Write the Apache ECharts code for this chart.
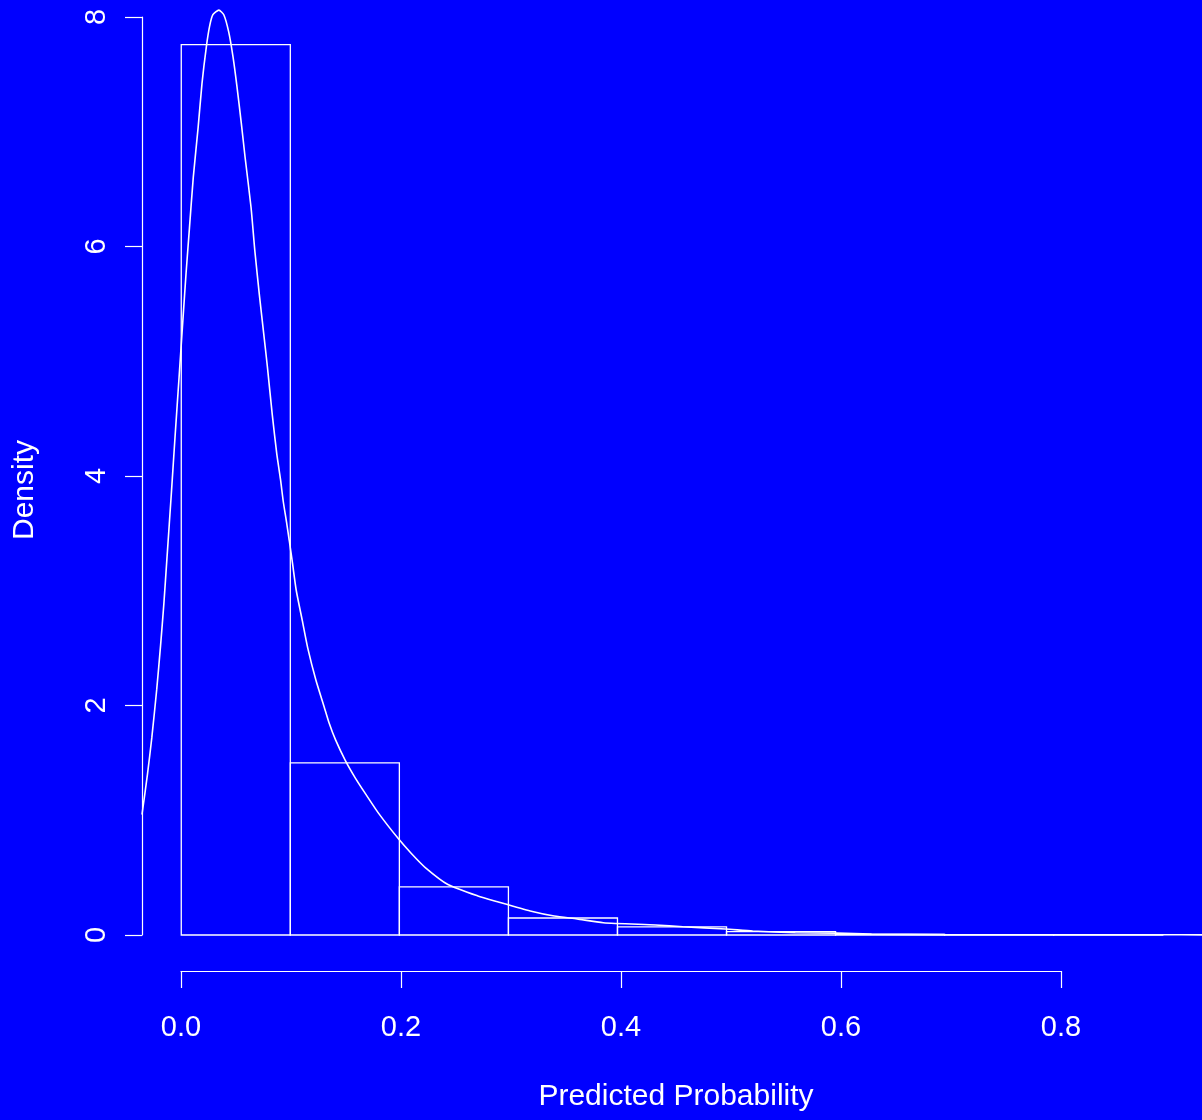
<!DOCTYPE html>
<html>
<head>
<meta charset="utf-8">
<script src="https://cdn.jsdelivr.net/npm/echarts@6/dist/echarts.min.js"></script>
<style>
html,body{margin:0;padding:0;background:#0000ff;}
#chart{width:1202px;height:1120px;}
</style>
</head>
<body>
<div id="chart"></div>
<script>
// Histogram bins (density scale)
const binStart = [0.0, 0.1, 0.2, 0.3, 0.4, 0.5, 0.6, 0.7, 0.8];
const binEnd   = [0.1, 0.2, 0.3, 0.4, 0.5, 0.6, 0.7, 0.8, 0.9];
const binDensity = [7.76, 1.50, 0.42, 0.148, 0.07, 0.029, 0.006, 0.002, 0.001];

// Kernel density curve
const densX = [-0.036,-0.031,-0.027,-0.0225,-0.019,-0.016,-0.013,-0.009,-0.0055,-0.002,0.0015,0.0045,0.0075,0.011,0.0155,0.019,0.023,0.026,0.029,0.0345,0.039,0.0435,0.0475,0.051,0.055,0.0585,0.064,0.0675,0.0715,0.0755,0.079,0.0835,0.0875,0.091,0.0935,0.0965,0.099,0.102,0.1055,0.111,0.116,0.1235,0.131,0.1355,0.1415,0.1505,0.1595,0.169,0.181,0.199,0.211,0.2235,0.2445,0.272,0.290,0.320,0.342,0.363,0.387,0.435,0.460,0.499,0.524,0.563,0.601,0.633,0.70,0.80,0.90,0.936];
const densY = [1.05,1.40,1.72,2.14,2.52,2.88,3.30,3.86,4.37,4.86,5.36,5.78,6.16,6.60,7.04,7.42,7.74,7.92,8.02,8.06,8.02,7.87,7.65,7.40,7.08,6.78,6.34,5.96,5.59,5.25,4.95,4.53,4.20,3.97,3.78,3.60,3.44,3.24,3.00,2.74,2.50,2.22,1.99,1.85,1.70,1.52,1.37,1.23,1.06,0.84,0.71,0.59,0.44,0.34,0.29,0.21,0.166,0.14,0.107,0.087,0.072,0.052,0.035,0.020,0.016,0.008,0.003,0.002,0.002,0.001];

// Axis ticks
const xTicks = [0.0, 0.2, 0.4, 0.6, 0.8];
const yTicks = [0, 2, 4, 6, 8];

const FONT = "'Liberation Sans', Arial, Helvetica, sans-serif";
const WHITE = '#ffffff';

const chart = echarts.init(document.getElementById('chart'), null, {renderer: 'canvas'});

const barData = binStart.map((s, i) => [s, binEnd[i], binDensity[i]]);
const lineData = densX.map((x, i) => [x, densY[i]]);

const option = {
  backgroundColor: '#0000ff',
  animation: false,
  grid: [
    {left: 142, width: 1069, top: 17, height: 918, containLabel: false},
    {left: 181, width: 880, top: 17, height: 918, containLabel: false}
  ],
  xAxis: [
    {gridIndex: 0, type: 'value', min: -0.036, max: 0.936, show: false},
    {
      gridIndex: 1, type: 'value', min: xTicks[0], max: xTicks[xTicks.length - 1], interval: 0.2,
      offset: 36,
      axisLine: {show: true, onZero: false, lineStyle: {color: WHITE, width: 1.2}},
      axisTick: {show: true, length: 17, lineStyle: {color: WHITE, width: 1.2}},
      axisLabel: {color: WHITE, fontSize: 29, fontFamily: FONT, margin: 42,
        formatter: v => v.toFixed(1)},
      splitLine: {show: false}
    }
  ],
  yAxis: [
    {
      gridIndex: 0, type: 'value', min: yTicks[0], max: yTicks[yTicks.length - 1], interval: 2,
      axisLine: {show: true, onZero: false, lineStyle: {color: WHITE, width: 1.2}},
      axisTick: {show: true, length: 17, lineStyle: {color: WHITE, width: 1.2}},
      axisLabel: {color: WHITE, fontSize: 29, fontFamily: FONT, rotate: 90, margin: 31},
      splitLine: {show: false}
    },
    {gridIndex: 1, type: 'value', min: 0, max: 8, show: false}
  ],
  series: [
    {
      type: 'custom',
      xAxisIndex: 0, yAxisIndex: 0,
      clip: false,
      data: barData,
      encode: {x: [0, 1], y: 2},
      renderItem: function (params, api) {
        const p0 = api.coord([api.value(0), api.value(2)]);
        const p1 = api.coord([api.value(1), 0]);
        return {
          type: 'rect',
          shape: {x: p0[0], y: p0[1], width: p1[0] - p0[0], height: p1[1] - p0[1]},
          style: {fill: 'none', stroke: WHITE, lineWidth: 1.3}
        };
      }
    },
    {
      type: 'line',
      xAxisIndex: 0, yAxisIndex: 0,
      data: lineData,
      showSymbol: false,
      symbol: 'none',
      clip: false,
      smooth: 0.2,
      lineStyle: {color: WHITE, width: 1.6}
    }
  ],
  graphic: [
    {
      type: 'text', x: 676, y: 1097,
      style: {text: 'Predicted Probability', fill: WHITE, font: '30px ' + FONT, align: 'center', verticalAlign: 'middle'}
    },
    {
      type: 'text', x: 25, y: 490, rotation: Math.PI / 2,
      style: {text: 'Density', fill: WHITE, font: '30px ' + FONT, align: 'center', verticalAlign: 'middle'}
    }
  ]
};

chart.setOption(option);
</script>
</body>
</html>
